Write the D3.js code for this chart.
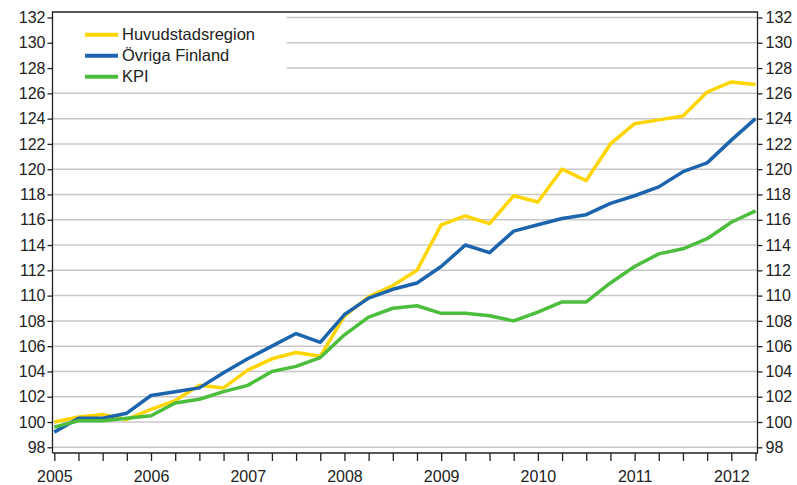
<!DOCTYPE html>
<html lang="sv">
<head>
<meta charset="UTF-8">
<title>Prisindex</title>
<style>
  body { margin:0; background:#fff; }
  svg { display:block; font-family:"Liberation Sans", Arial, sans-serif; }
  .tick-label { font-size:16px; fill:#222; }
  .legend-text { font-size:16.5px; fill:#222; }
</style>
</head>
<body>
<svg id="chart" width="797" height="485"></svg>
<script src="https://d3js.org/d3.v7.min.js"></script>
<script>
// quarterly data 2005 Q1 .. 2012 Q2
const quarters = d3.range(30);
const yearLabels = ["2005","2006","2007","2008","2009","2010","2011","2012"];
const yTicks = d3.range(98, 133, 2);

const huvudstadsregion = [100.0, 100.4, 100.6, 100.2, 101.0, 101.7, 102.9, 102.7, 104.1, 105.0,
  105.5, 105.2, 108.4, 109.9, 110.8, 112.0, 115.6, 116.3, 115.7, 117.9,
  117.4, 120.0, 119.1, 122.0, 123.6, 123.9, 124.2, 126.1, 126.9, 126.7];
const ovrigaFinland = [99.2, 100.3, 100.3, 100.7, 102.1, 102.4, 102.7, 103.9, 105.0, 106.0,
  107.0, 106.3, 108.5, 109.8, 110.5, 111.0, 112.3, 114.0, 113.4, 115.1,
  115.6, 116.1, 116.4, 117.3, 117.9, 118.6, 119.8, 120.5, 122.3, 124.0];
const kpi = [99.6, 100.1, 100.1, 100.3, 100.5, 101.5, 101.8, 102.4, 102.9, 104.0,
  104.4, 105.1, 106.9, 108.3, 109.0, 109.2, 108.6, 108.6, 108.4, 108.0,
  108.7, 109.5, 109.5, 111.0, 112.3, 113.3, 113.7, 114.5, 115.8, 116.7];

const series = [
  { name: "Huvudstadsregion", values: huvudstadsregion, color: "#ffd500" },
  { name: "Övriga Finland", values: ovrigaFinland, color: "#1c64ae" },
  { name: "KPI", values: kpi, color: "#4cbd3c" }
];

const svg = d3.select("#chart");
const plotL = 52.5, plotR = 757.5, plotT = 12, plotB = 453;

const x = d3.scaleLinear().domain([0, 29]).range([54.3, 755.5]);
const y = d3.scaleLinear().domain([98, 132]).range([447.3, 17.5]);

// gridlines
svg.append("g").selectAll("line").data(yTicks).join("line")
  .attr("x1", plotL).attr("x2", plotR)
  .attr("y1", d => y(d)).attr("y2", d => y(d))
  .attr("stroke", "#c8c8c8").attr("stroke-width", 1.5);

// legend background box
svg.append("rect").attr("x", plotL + 1).attr("y", plotT + 1)
  .attr("width", 233).attr("height", 70).attr("fill", "#fff");

// lines
const line = d3.line().x((d, i) => x(i)).y(d => y(d));
svg.append("g").selectAll("path").data(series).join("path")
  .attr("d", d => line(d.values))
  .attr("fill", "none")
  .attr("stroke", d => d.color)
  .attr("stroke-width", 3.5)
  .attr("stroke-linejoin", "round");

// legend
const lg = svg.append("g").selectAll("g").data(series).join("g")
  .attr("transform", (d, i) => `translate(85,${34.7 + i * 21})`);
lg.append("line").attr("x1", 0).attr("x2", 33).attr("stroke", d => d.color).attr("stroke-width", 4);
lg.append("text").attr("class", "legend-text").attr("x", 37).attr("dy", "0.35em").text(d => d.name);

// frame
const frame = svg.append("g").attr("stroke", "#222").attr("stroke-width", 1.3).attr("fill", "none");
frame.append("path").attr("d", `M${plotL},${plotB}V${plotT}H${plotR}V${plotB}H${plotL}`);

// axes
const yLeft = d3.axisLeft(y).tickValues(yTicks).tickSize(5).tickPadding(2);
const yRight = d3.axisRight(y).tickValues(yTicks).tickSize(5).tickPadding(3);
const xAxis = d3.axisBottom(x).tickValues(quarters).tickSize(8)
  .tickFormat(d => d % 4 === 0 ? yearLabels[d / 4] : "");

function styleAxis(g) {
  g.select(".domain").remove();
  g.selectAll(".tick line").attr("stroke", "#222").attr("stroke-width", 1.3);
  g.selectAll(".tick text").attr("class", "tick-label").attr("fill", "#222");
  g.attr("font-family", null).attr("font-size", null);
}
svg.append("g").attr("transform", `translate(${plotL},0)`).call(yLeft).call(styleAxis);
svg.append("g").attr("transform", `translate(${plotR},0)`).call(yRight).call(styleAxis);
svg.append("g").attr("transform", `translate(0,${plotB})`).call(xAxis).call(styleAxis)
  .selectAll(".tick text").attr("dy", "1.12em");
</script>
</body>
</html>
